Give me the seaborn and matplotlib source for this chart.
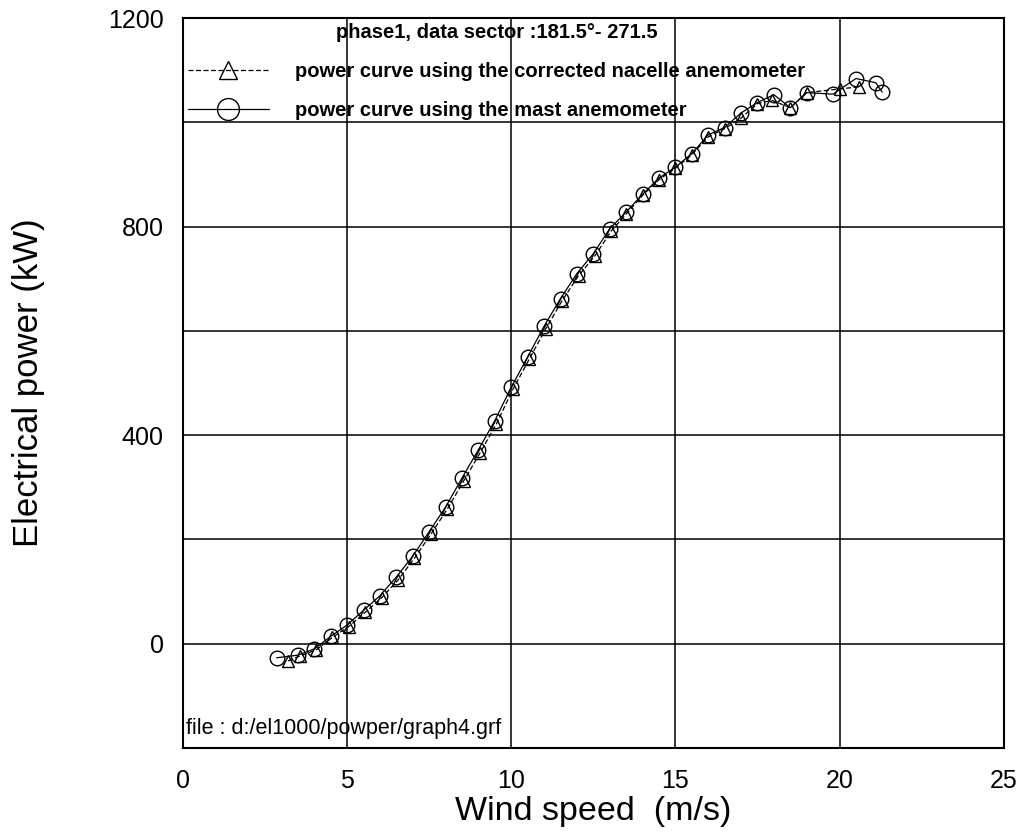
import matplotlib
matplotlib.use("Agg")
import matplotlib.pyplot as plt
import seaborn as sns
import pandas as pd

# Data
mast_speed = [2.85, 3.5, 4.0, 4.5, 5.0, 5.5, 6.0, 6.5, 7.0, 7.5, 8.0, 8.5, 9.0, 9.5,
              10.0, 10.5, 11.0, 11.5, 12.0, 12.5, 13.0, 13.5, 14.0, 14.5, 15.0, 15.5,
              16.0, 16.5, 17.0, 17.5, 18.0, 18.5, 19.0, 19.8, 20.5, 21.1, 21.3]
mast_power = [-27, -22, -10, 14, 36, 64, 92, 128, 168, 215, 262, 318, 372, 428,
              492, 550, 609, 662, 710, 748, 796, 828, 862, 893, 914, 940,
              976, 990, 1018, 1038, 1053, 1028, 1057, 1054, 1084, 1076, 1058]
nacelle_speed = [3.2, 3.55, 4.05, 4.55, 5.05, 5.55, 6.05, 6.55, 7.05, 7.55, 8.05, 8.55,
                 9.05, 9.55, 10.05, 10.55, 11.05, 11.55, 12.05, 12.55, 13.05, 13.5,
                 14.0, 14.5, 15.0, 15.5, 16.0, 16.5, 17.0, 17.5, 17.95, 18.5, 19.0,
                 20.0, 20.6]
nacelle_power = [-33, -24, -12, 12, 33, 60, 88, 122, 164, 210, 258, 312,
                 366, 422, 488, 546, 604, 658, 706, 744, 792, 824,
                 860, 890, 912, 938, 972, 988, 1008, 1036, 1042, 1028, 1057,
                 1064, 1068]
label_nacelle = "power curve using the corrected nacelle anemometer"
label_mast = "power curve using the mast anemometer"
legend_title = "phase1, data sector :181.5°- 271.5"
file_note = "file : d:/el1000/powper/graph4.grf"
x_ticks = [0, 5, 10, 15, 20, 25]
y_ticks = [-200, 0, 200, 400, 600, 800, 1000, 1200]
y_ticklabels = ["", "0", "", "400", "", "800", "", "1200"]

df = pd.concat([
    pd.DataFrame({"speed": nacelle_speed, "power": nacelle_power, "series": label_nacelle}),
    pd.DataFrame({"speed": mast_speed, "power": mast_power, "series": label_mast}),
], ignore_index=True)

sns.set_theme(style="white")
plt.rcParams["font.family"] = ["Liberation Sans", "DejaVu Sans"]
plt.rcParams["text.color"] = "black"
plt.rcParams["axes.labelcolor"] = "black"
plt.rcParams["xtick.color"] = "black"
plt.rcParams["ytick.color"] = "black"

fig = plt.figure(figsize=(10.2, 8.35), dpi=100)
ax = fig.add_axes([0.1794, 0.1042, 0.8046, 0.8742])

sns.lineplot(data=df, x="speed", y="power", hue="series", style="series",
             palette={label_nacelle: "black", label_mast: "black"},
             markers={label_nacelle: "^", label_mast: "o"},
             dashes={label_nacelle: (4, 2), label_mast: ""},
             sort=False, estimator=None, legend=False, ax=ax,
             linewidth=0.9, markersize=9, markerfacecolor="none",
             markeredgecolor="black", markeredgewidth=1.0)

for line in ax.lines:
    if line.get_marker() == "o":
        line.set_markersize(10.5)
    else:
        line.set_markersize(9)

ax.set_xlim(0, 25)
ax.set_ylim(-200, 1200)
ax.set_xticks(x_ticks)
ax.set_xticklabels([str(t) for t in x_ticks], fontsize=18)
ax.set_yticks(y_ticks)
ax.set_yticklabels(y_ticklabels, fontsize=18)
ax.tick_params(axis="x", length=0, pad=15)
ax.tick_params(axis="y", length=0, pad=14)
ax.grid(True, color="black", linewidth=1.1)
for s in ax.spines.values():
    s.set_color("black")
    s.set_linewidth(1.5)

ax.set_xlabel("Wind speed  (m/s)", fontsize=24.5)
ax.xaxis.set_label_coords(0.5, -0.066)
ax.xaxis.label.set_va("top")
ax.set_ylabel("Electrical power (kW)", fontsize=25)
ax.yaxis.set_label_coords(-0.168, 0.5)

handles = [ax.lines[0], ax.lines[1]]
leg = ax.legend(handles, [label_nacelle, label_mast], title=legend_title,
                loc="upper left", bbox_to_anchor=(0.0, 1.0), frameon=False,
                handlelength=4.0, handletextpad=1.3, labelspacing=1.0,
                markerscale=1.5,
                prop={"weight": "bold", "size": 14.5}, borderaxespad=0.15,
                borderpad=0.1)
leg.get_title().set_fontweight("bold")
leg.get_title().set_fontsize(14.5)

ax.text(0.004, 0.013, file_note, transform=ax.transAxes, fontsize=15.5,
        ha="left", va="bottom")

fig.savefig("out.png", dpi=100)
